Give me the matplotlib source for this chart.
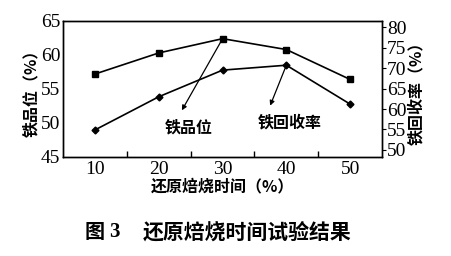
import numpy as np
import matplotlib
matplotlib.use('Agg')
import matplotlib.pyplot as plt

# fonts: Chinese in Noto CJK, numbers in serif
cjk = ['Noto Sans CJK SC', 'DejaVu Sans']
plt.rcParams['font.family'] = ['Liberation Serif', 'Noto Sans CJK SC']

# data
time = [10, 20, 30, 40, 50]
grade = [57.2, 60.3, 62.4, 60.8, 56.4]        # 铁品位 (%), left axis
recovery = [54.9, 63.0, 69.5, 70.7, 61.2]     # 铁回收率 (%), right axis

fig = plt.figure(figsize=(4.51, 2.56), dpi=100)
ax = fig.add_axes([0.14, 0.387, 0.707, 0.531])
ax2 = ax.twinx()

ax.plot(time, grade, color='black', lw=1.2, marker='s', ms=4.5)
ax2.plot(time, recovery, color='black', lw=1.2, marker='D', ms=3.5)

ax.set_xlim(5, 55)
ax.set_ylim(45, 65)
ax2.set_ylim(48.3, 81.5)

ax.set_xticks([10, 20, 30, 40, 50])
ax.set_xticks([15, 25, 35, 45], minor=True)
ax.tick_params(axis='x', which='major', length=0, labelsize=14, pad=3)
ax.tick_params(axis='x', which='minor', direction='in', length=4, width=1)
ax.set_yticks([45, 50, 55, 60, 65])
ax.tick_params(axis='y', direction='in', length=0, labelsize=14, pad=2)
ax2.set_yticks([50, 55, 60, 65, 70, 75, 80])
ax2.tick_params(axis='y', direction='out', length=3, labelsize=14, pad=0.5)

for a in (ax, ax2):
    for s in a.spines.values():
        s.set_linewidth(1.0)

ax.set_ylabel('铁品位（%）', family=cjk, fontsize=11.5, fontweight='bold', labelpad=1)
ax2.set_ylabel('铁回收率（%）', family=cjk, fontsize=11.5, fontweight='bold',
               rotation=90, labelpad=1)
ax.set_xlabel('还原焙烧时间（%）', family=cjk, fontsize=11.5, fontweight='bold', labelpad=0)

# annotations with arrows
ax.annotate('', xy=(23.4, 51.5), xytext=(30, 62.4),
            arrowprops=dict(arrowstyle='-|>', color='black', lw=0.9, mutation_scale=7))
ax.text(24.7, 49.4, '铁品位', family=cjk, fontsize=11.5, fontweight='bold',
        ha='center', va='center')
ax2.annotate('', xy=(37.3, 60.2), xytext=(40, 70.7),
             arrowprops=dict(arrowstyle='-|>', color='black', lw=0.9, mutation_scale=7))
ax2.text(40.6, 56.6, '铁回收率', family=cjk, fontsize=11.5, fontweight='bold',
         ha='center', va='center')

# caption
fig.text(85 / 451, 0.094, '图', family=cjk, fontsize=14.5, fontweight='bold',
         ha='left', va='center')
fig.text(109 / 451, 0.094, '3', family=['Liberation Serif'], fontsize=15,
         fontweight='bold', ha='left', va='center')
fig.text(143 / 451, 0.094, '还原焙烧时间试验结果', family=cjk, fontsize=15,
         fontweight='bold', ha='left', va='center')

fig.savefig('out.png', dpi=100)
